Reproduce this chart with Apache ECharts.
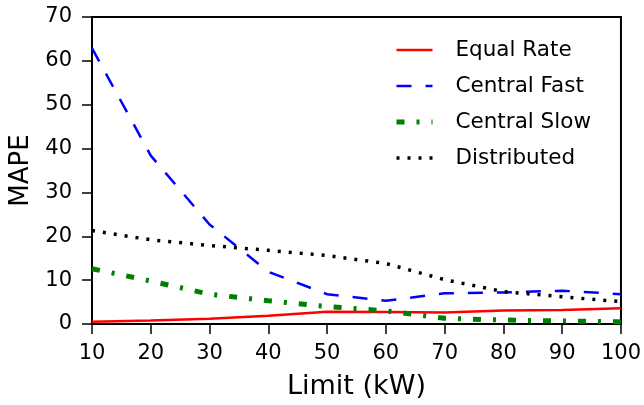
<!DOCTYPE html>
<html>
<head>
<meta charset="utf-8">
<script src="https://cdn.jsdelivr.net/npm/echarts@6/dist/echarts.min.js"></script>
<style>
html,body{margin:0;padding:0;background:#fff;}
#chart{width:644px;height:405px;}
</style>
</head>
<body>
<div id="chart"></div>
<script>
const limits = [10, 20, 30, 40, 50, 60, 70, 80, 90, 100];
const equalRate = [0.5, 0.8, 1.2, 1.9, 2.8, 2.75, 2.6, 3.05, 3.2, 3.6];
const centralFast = [62.9, 38.4, 22.7, 11.9, 6.8, 5.3, 7.0, 7.2, 7.6, 6.8];
const centralSlow = [12.6, 9.8, 6.8, 5.3, 4.0, 3.0, 1.3, 0.9, 0.7, 0.5];
const distributed = [21.3, 19.2, 17.9, 16.8, 15.6, 13.8, 10.1, 7.4, 6.2, 5.1];
const seriesNames = ['Equal Rate', 'Central Fast', 'Central Slow', 'Distributed'];

const pairs = arr => limits.map((x, i) => [x, arr[i]]);
const font = 'DejaVu Sans';
const lineWidths = [2.5, 2.5, 5, 3.5];

const chart = echarts.init(document.getElementById('chart'), null, {renderer: 'canvas'});
chart.setOption({
  animation: false,
  backgroundColor: '#fff',
  grid: {
    left: 92, right: 22, top: 17, bottom: 78,
    show: true, borderColor: '#000', borderWidth: 2, backgroundColor: 'transparent'
  },
  legend: {
    orient: 'vertical',
    left: 394, top: 39, padding: 0,
    itemWidth: 36, itemHeight: 16, itemGap: 14,
    itemStyle: {opacity: 0},
    textStyle: {fontFamily: font, fontSize: 21.5, color: '#000', padding: [0, 0, 0, 18]},
    data: seriesNames.map((n, i) => ({name: n, lineStyle: {width: lineWidths[i]}}))
  },
  xAxis: {
    type: 'value', min: 10, max: 100, interval: 10,
    name: 'Limit (kW)', nameLocation: 'middle', nameGap: 49,
    nameTextStyle: {fontFamily: font, fontSize: 27, color: '#000'},
    axisLine: {show: true, lineStyle: {color: '#000', width: 2}},
    axisTick: {show: true, inside: false, length: 10, lineStyle: {color: '#000', width: 1.5}},
    axisLabel: {fontFamily: font, fontSize: 21, color: '#000', margin: 19},
    splitLine: {show: false}
  },
  yAxis: {
    type: 'value', min: 0, max: 70, interval: 10,
    name: 'MAPE', nameLocation: 'middle', nameGap: 51,
    nameTextStyle: {fontFamily: font, fontSize: 26, color: '#000'},
    axisLine: {show: true, lineStyle: {color: '#000', width: 2}},
    axisTick: {show: true, inside: false, length: 10, lineStyle: {color: '#000', width: 1.5}},
    axisLabel: {fontFamily: font, fontSize: 21, color: '#000', margin: 20},
    splitLine: {show: false}
  },
  series: [
    {name: seriesNames[0], type: 'line', data: pairs(equalRate), showSymbol: false, symbol: 'none',
     itemStyle: {color: '#ff0000'}, lineStyle: {color: '#ff0000', width: lineWidths[0], type: 'solid'}},
    {name: seriesNames[1], type: 'line', data: pairs(centralFast), showSymbol: false, symbol: 'none',
     itemStyle: {color: '#0000ff'}, lineStyle: {color: '#0000ff', width: lineWidths[1], type: [15, 14]}},
    {name: seriesNames[2], type: 'line', data: pairs(centralSlow), showSymbol: false, symbol: 'none',
     itemStyle: {color: '#008000'}, lineStyle: {color: '#008000', width: lineWidths[2], type: [8, 12, 3, 12]}},
    {name: seriesNames[3], type: 'line', data: pairs(distributed), showSymbol: false, symbol: 'none',
     itemStyle: {color: '#000000'}, lineStyle: {color: '#000000', width: lineWidths[3], type: [3, 8]}}
  ]
});
</script>
</body>
</html>
